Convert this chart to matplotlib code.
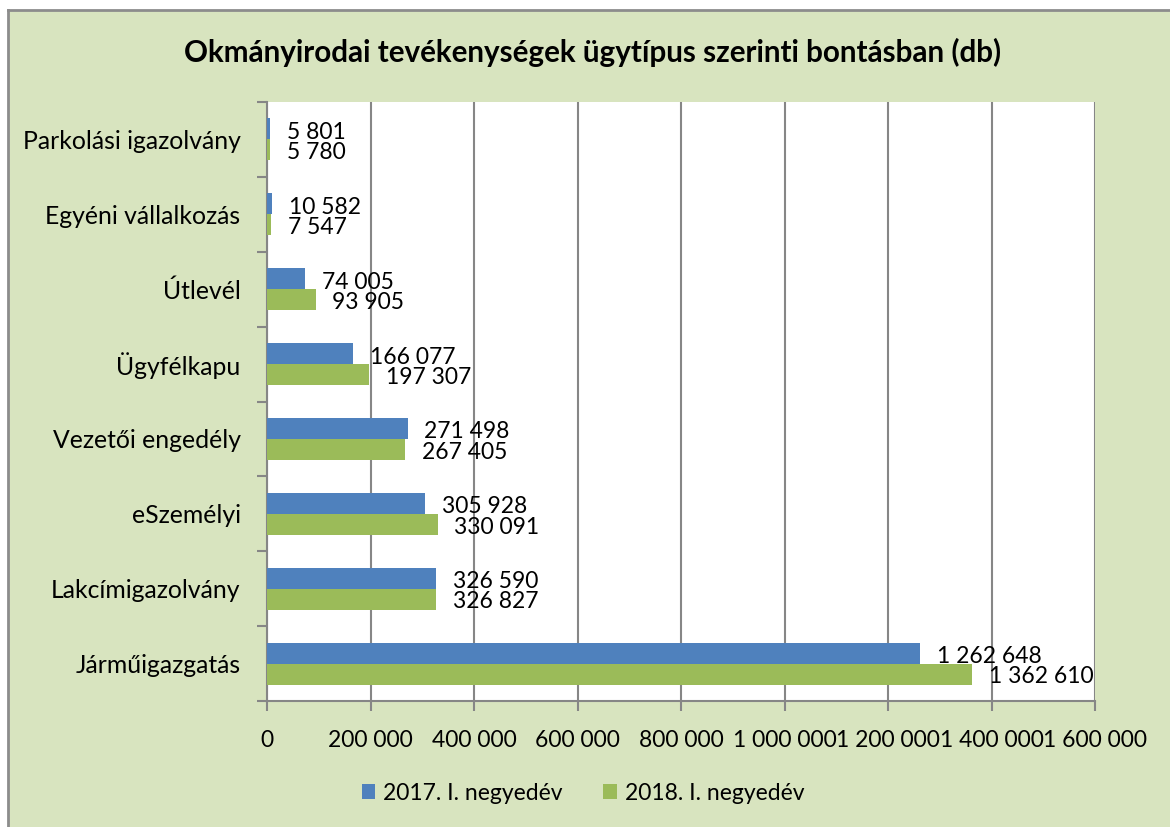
import matplotlib
matplotlib.use("Agg")
import matplotlib.pyplot as plt
from matplotlib.patches import Rectangle
from matplotlib.ticker import FuncFormatter

categories = ["Járműigazgatás", "Lakcímigazolvány", "eSzemélyi", "Vezetői engedély",
              "Ügyfélkapu", "Útlevél", "Egyéni vállalkozás", "Parkolási igazolvány"]
values_2017 = [1262648, 326590, 305928, 271498, 166077, 74005, 10582, 5801]
values_2018 = [1362610, 326827, 330091, 267405, 197307, 93905, 7547, 5780]
series_names = ["2017. I. negyedév", "2018. I. negyedév"]
title = "Okmányirodai tevékenységek ügytípus szerinti bontásban (db)"
x_ticks = [0, 200000, 400000, 600000, 800000, 1000000, 1200000, 1400000, 1600000]

BLUE = "#4F81BD"
GREEN = "#9BBB59"
BG = "#D8E4BF"
GRID = "#868686"
FONT = "Lato"
FS = 16.5

W, H = 1170, 827
fig = plt.figure(figsize=(W / 100, H / 100), dpi=100)
fig.patch.set_facecolor("white")

# chart area background with top/left border
fig.patches.append(Rectangle((8 / W, 0), 1 - 8 / W, 1 - 10 / H, transform=fig.transFigure,
                             facecolor=BG, edgecolor="none", zorder=-10))
fig.add_artist(plt.Line2D([8 / W, 1], [1 - 10 / H, 1 - 10 / H], color="#8C8C8C", lw=2,
                          transform=fig.transFigure, zorder=-9))
fig.add_artist(plt.Line2D([8 / W, 8 / W], [0, 1 - 10 / H], color="#8C8C8C", lw=2,
                          transform=fig.transFigure, zorder=-9))

left, right, top, bottom = 267, 1095, 102, 701
ax = fig.add_axes([left / W, 1 - bottom / H, (right - left) / W, (bottom - top) / H])
ax.set_facecolor("white")

n = len(categories)
ys = list(range(n))
h = 0.28
ax.barh([y + h / 2 for y in ys], values_2017, height=h, color=BLUE, label=series_names[0], zorder=3)
ax.barh([y - h / 2 for y in ys], values_2018, height=h, color=GREEN, label=series_names[1], zorder=3)

def fmt(v):
    return f"{v:,.0f}".replace(",", " ")

for y, v in zip(ys, values_2017):
    ax.annotate(fmt(v), (v, y + h / 2), xytext=(12, -2.5), textcoords="offset points",
                va="center", ha="left", fontsize=FS, family=FONT, zorder=4)
for y, v in zip(ys, values_2018):
    ax.annotate(fmt(v), (v, y - h / 2), xytext=(12, -2), textcoords="offset points",
                va="center", ha="left", fontsize=FS, family=FONT, zorder=4)

ax.set_xlim(0, 1600000)
ax.set_ylim(-0.5, n - 0.5)
ax.set_xticks(x_ticks)
ax.xaxis.set_major_formatter(FuncFormatter(lambda v, p: fmt(v)))
ax.grid(axis="x", color=GRID, lw=1.5, zorder=1)
ax.set_axisbelow(True)

ax.set_yticks([y - 0.5 for y in range(n + 1)])
ax.set_yticklabels([])
ax.set_yticks(ys, minor=True)
ax.set_yticklabels(categories, minor=True, fontsize=17.8, family=FONT)
ax.tick_params(axis="y", which="minor", length=0, pad=19)
ax.tick_params(axis="y", which="major", length=7, width=1.5, color=GRID)
ax.tick_params(axis="x", length=7, width=1.5, color=GRID, labelsize=FS, pad=14)
for lab in ax.get_xticklabels():
    lab.set_family(FONT)

for s in ["top", "right"]:
    ax.spines[s].set_visible(False)
for s in ["left", "bottom"]:
    ax.spines[s].set_color(GRID)
    ax.spines[s].set_linewidth(1.5)

fig.text(593 / W, 1 - 52 / H, title, ha="center", va="center", fontsize=21.3,
         fontweight="bold", family=FONT)

leg = fig.legend(loc="center", bbox_to_anchor=(583 / W, 1 - 793 / H), ncol=2, frameon=False,
                 prop={"family": FONT, "size": FS}, handlelength=0.6, handleheight=0.6,
                 handletextpad=0.35, columnspacing=1.75)

fig.savefig("out.png", dpi=100)
